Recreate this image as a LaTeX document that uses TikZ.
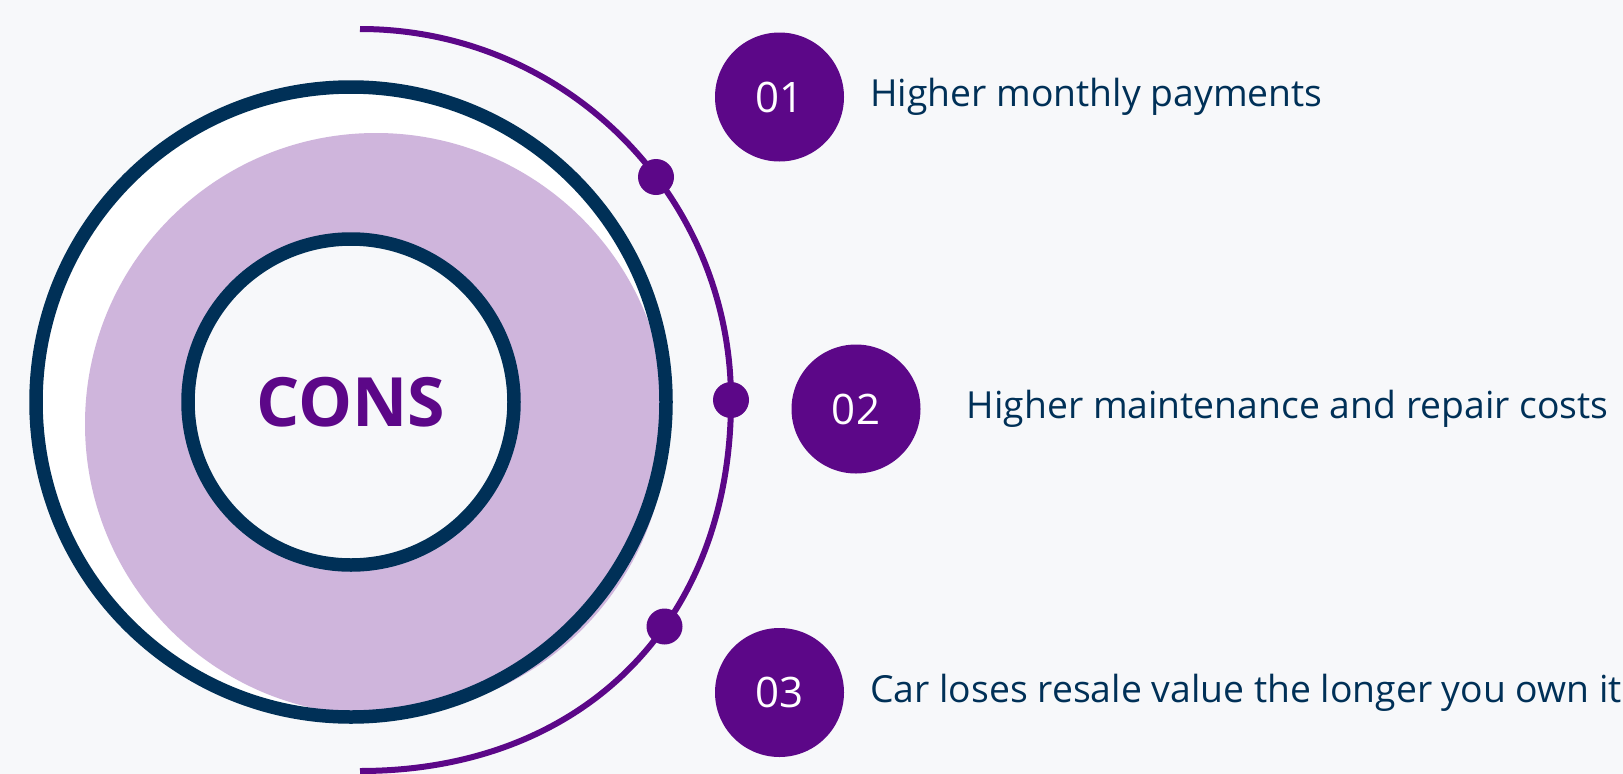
\documentclass[tikz,border=0pt]{standalone}
\usepackage{fontspec}
\setmainfont{Open Sans}
\usetikzlibrary{positioning}
\definecolor{bgcol}{HTML}{F7F8FA}
\definecolor{navy}{HTML}{003057}
\definecolor{grape}{HTML}{5C0788}
\definecolor{lilac}{HTML}{CFB5DC}
\begin{document}
\begin{tikzpicture}[x=1pt, y=-1pt,
	ring/.style = {draw=navy, line width=13.5pt},
	hub/.style = {ring, circle, fill=bgcol, minimum size=326pt, inner sep=0pt, text=grape, font=\fontsize{68}{80}\selectfont\bfseries},
	num/.style = {circle, fill=grape, minimum size=129pt, inner sep=0pt, text=white, font=\fontsize{42}{50}\selectfont},
	dot/.style = {circle, fill=grape, minimum size=36pt, inner sep=0pt},
	item/.style = {inner sep=0pt, text=navy, font=\fontsize{37.3}{44}\selectfont}]
	\fill[bgcol] (0,0) rectangle (1623,774);
	\useasboundingbox (0,0) rectangle (1623,774);
	\coordinate (o) at (351,402);
	\coordinate (top) at (360,29);
	\coordinate (bottom) at (360,771);
	% big ring with the lilac disc
	\fill[white] (o) circle (315pt);
	\fill[lilac] (376,424) circle (291pt);
	\draw[ring] (o) circle (315pt);
	\node[hub] (cons) at (o) {CONS};
	% outer arc
	\draw[grape, line width=6pt] (top) arc[start angle=90, end angle=0, radius=371pt]
		.. controls +(0,222.6) and (582.6,771) .. (bottom);
	\node[dot] (d1) at (656,177) {};
	\node[dot] (d2) at (731,400) {};
	\node[dot] (d3) at (664.5,626.5) {};
	% items
	\node[num] (n1) at (779.5,97) {01};
	\node[num] (n2) at (856,409) {02};
	\node[num] (n3) at (779.5,692.5) {03};
	\node[item] (t1) [right=26pt of n1] {Higher monthly payments};
	\node[item] (t2) [right=46pt of n2] {Higher maintenance and repair costs};
	\node[item] (t3) [right=26pt of n3] {Car loses resale value the longer you own it};
\end{tikzpicture}
\end{document}
